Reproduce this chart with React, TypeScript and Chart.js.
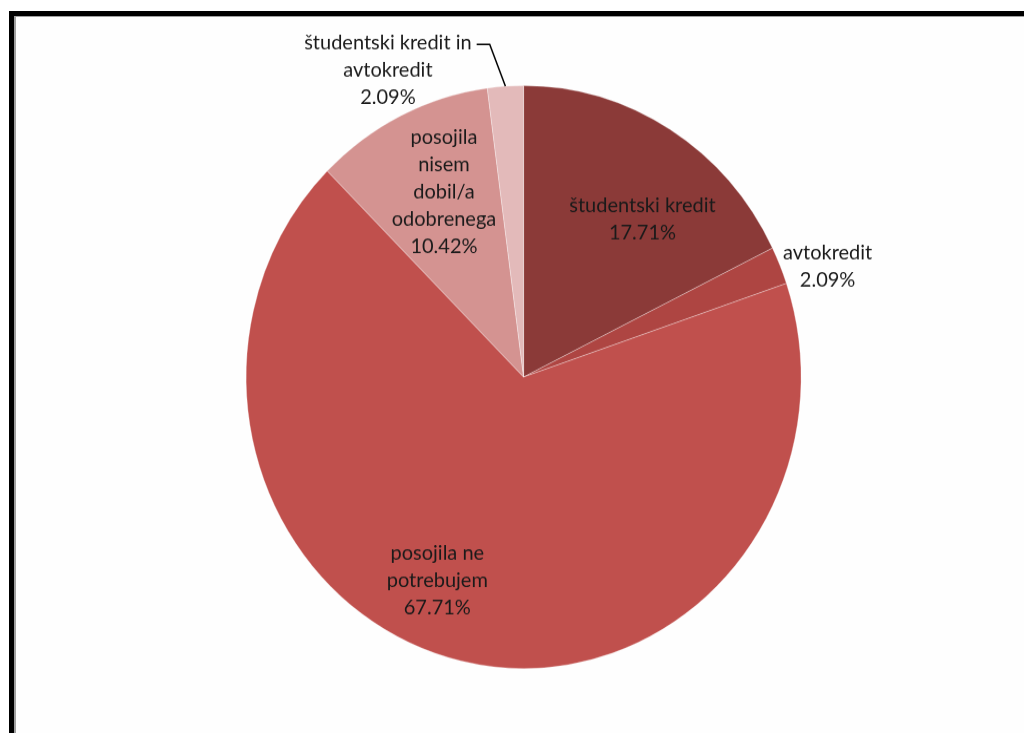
import React, { useEffect, useRef } from "react";
import { Chart, registerables } from "chart.js";

Chart.register(...registerables);

const categories = [
  "študentski kredit",
  "avtokredit",
  "posojila ne potrebujem",
  "posojila nisem dobil/a odobrenega",
  "študentski kredit in avtokredit",
];
const values = [17.71, 2.09, 67.71, 10.42, 2.09];
const labelLines = [
  ["študentski kredit"],
  ["avtokredit"],
  ["posojila ne", "potrebujem"],
  ["posojila", "nisem", "dobil/a", "odobrenega"],
  ["študentski kredit in", "avtokredit"],
];
const colors = ["#8B3A38", "#AE4542", "#C0504D", "#D49391", "#E3BABA"];

// label placement: angle shift (deg) from slice mid angle, radius factor, leader line
const labelPlacement = [
  { shift: 6.5, factor: 0.69, leader: null },
  { shift: 3.3, factor: 1.16, leader: null },
  { shift: 10.9, factor: 0.764, leader: null },
  { shift: 2.0, factor: 0.698, leader: null },
  { shift: -21.1, factor: 1.163, leader: { shift: -2.35, factor: 1.147 } },
];

const CANVAS_W = 1024;
const CANVAS_H = 698;
const FONT = "20px Lato";
const LINE_H = 26;

const labelPlugin = {
  id: "sliceLabels",
  afterDatasetsDraw(chart: any) {
    const ctx = chart.ctx;
    const meta = chart.getDatasetMeta(0);
    ctx.save();
    ctx.font = FONT;
    ctx.fillStyle = "#1a1a1a";
    ctx.textAlign = "center";
    ctx.textBaseline = "middle";
    meta.data.forEach((arc: any, i: number) => {
      const p = labelPlacement[i];
      const mid = (arc.startAngle + arc.endAngle) / 2;
      const a = mid + (p.shift * Math.PI) / 180;
      const r = arc.outerRadius * p.factor;
      const cx = arc.x + Math.cos(a) * r;
      const cy = arc.y + Math.sin(a) * r;
      const lines = [...labelLines[i], values[i].toFixed(2) + "%"];
      const top = cy - ((lines.length - 1) * LINE_H) / 2;
      lines.forEach((t, k) => ctx.fillText(t, cx, top + k * LINE_H));
      if (p.leader) {
        const w = ctx.measureText(lines[0]).width;
        const endX = cx + w / 2 + 5;
        const lineY = top + 2;
        const la = mid + (p.leader.shift * Math.PI) / 180;
        const kx = arc.x + Math.cos(la) * arc.outerRadius * p.leader.factor;
        const ex = arc.x + Math.cos(mid) * arc.outerRadius;
        const ey = arc.y + Math.sin(mid) * arc.outerRadius;
        ctx.beginPath();
        ctx.strokeStyle = "#000000";
        ctx.lineWidth = 1.5;
        ctx.moveTo(endX, lineY);
        ctx.lineTo(kx, lineY);
        ctx.lineTo(ex, ey);
        ctx.stroke();
      }
    });
    ctx.restore();
  },
};

export default function App() {
  const ref = useRef<HTMLCanvasElement | null>(null);
  useEffect(() => {
    if (!ref.current) return;
    const chart = new Chart(ref.current, {
      type: "pie",
      data: {
        labels: categories,
        datasets: [
          {
            data: values,
            backgroundColor: colors,
            borderColor: "rgba(255,255,255,0.3)",
            borderWidth: 1,
          },
        ],
      },
      options: {
        responsive: false,
        maintainAspectRatio: false,
        animation: false,
        layout: { padding: { left: 245.6, right: 222.4, top: 81, bottom: 61 } },
        plugins: { legend: { display: false }, tooltip: { enabled: false } },
      },
      plugins: [labelPlugin],
    });
    return () => chart.destroy();
  }, []);

  return (
    <div
      style={{
        position: "fixed",
        left: 0,
        top: 0,
        width: "1024px",
        height: "733px",
        overflow: "hidden",
        background: "#ffffff",
      }}
    >
      <div
        style={{
          position: "absolute",
          left: 9,
          top: 11,
          width: 1200,
          height: 900,
          borderLeft: "5px solid #000",
          borderTop: "5px solid #000",
          boxShadow: "inset 2px 1px 0 #a0a0a0",
          background: "#fefefe",
        }}
      />
      <canvas
        ref={ref}
        width={CANVAS_W}
        height={CANVAS_H}
        style={{
          position: "absolute",
          left: 0,
          top: 0,
          width: "1024px",
          height: "733px",
          display: "block",
        }}
      />
    </div>
  );
}
